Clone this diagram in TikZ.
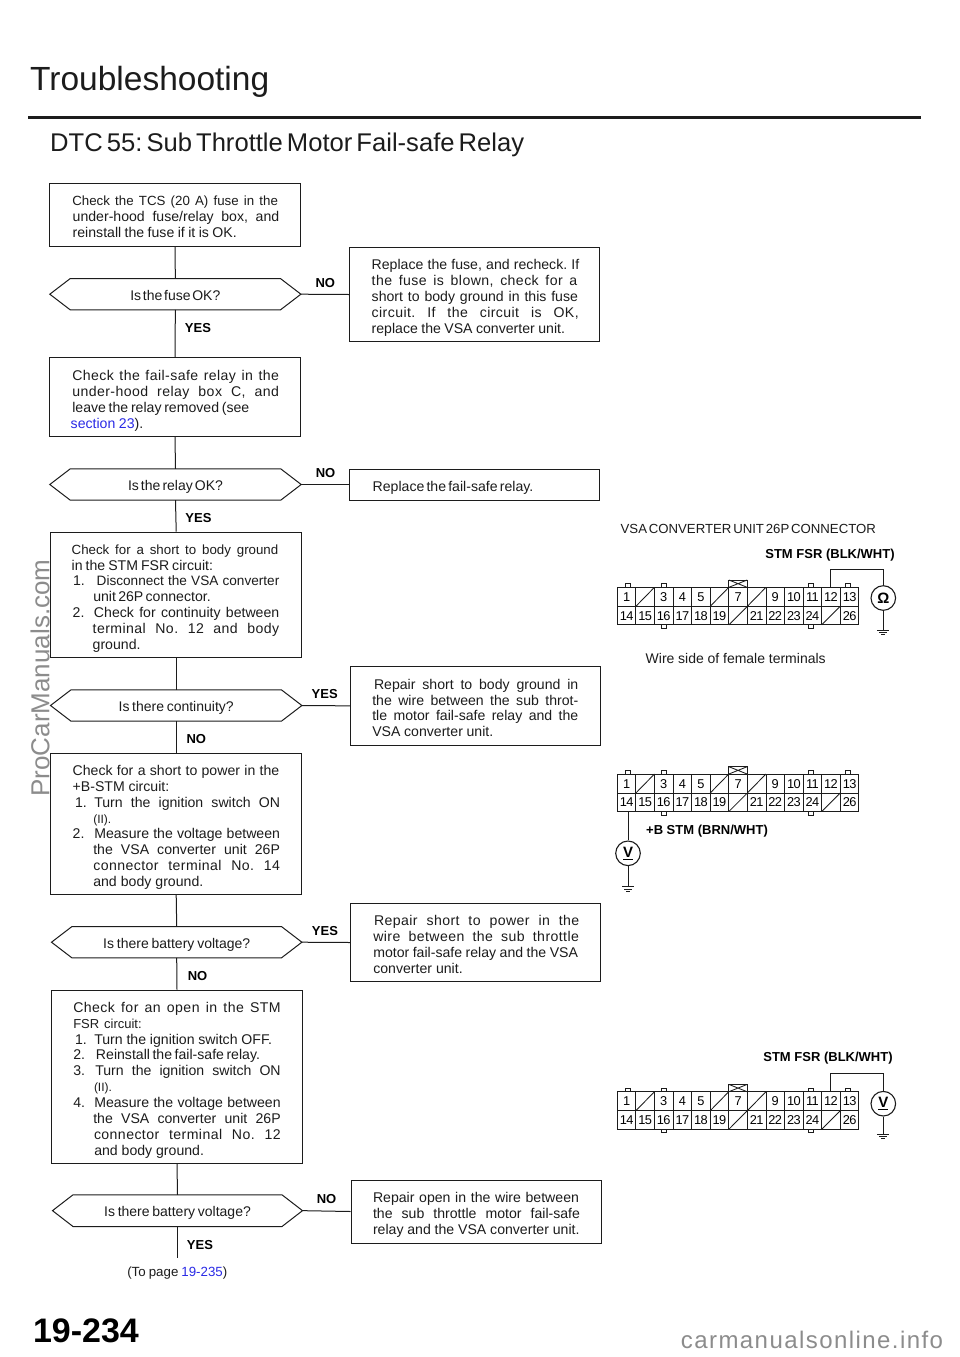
\documentclass[tikz,border=0pt]{standalone}
\usepackage{fontspec}
\setmainfont{Liberation Sans}
\usetikzlibrary{calc}
\definecolor{ink}{HTML}{1C1C1C}
\definecolor{linkblue}{HTML}{2A2AE6}
\definecolor{wmgray}{HTML}{8C8C8C}
\def\bx{0}
\newcommand\fitspace{\frenchspacing\spaceskip=0.2em plus 1fil minus 1fil\relax}
% one printed line running from x1 to x2 (picture coordinates)
\newcommand\fit[3]{\leavevmode\hskip\dimexpr #1pt-\bx pt-10pt\relax\strut\hbox to \dimexpr #2pt-#1pt\relax{\fitspace #3}\par}
\newcommand\fitl[3]{\leavevmode\hskip\dimexpr #1pt-\bx pt-10pt\relax\strut\hbox to \dimexpr #2pt-#1pt\relax{\addfontfeature{LetterSpace=3}\fitspace #3}\par}
% numbered line
\newcommand\fitn[5]{\leavevmode\hskip\dimexpr #3pt-\bx pt-10pt\relax\strut\llap{\hbox to \dimexpr #3pt-#1pt\relax{#2\hss}}\hbox to \dimexpr #4pt-#3pt\relax{\fitspace #5}\par}
\newcommand\fitw[2]{\hbox to #1pt{\fitspace #2}}
\newcommand\tinytxt{\fontsize{12}{15.9}\selectfont}
\newcommand\stepnode[6]{%
  \pgfmathsetmacro\tw{#4-#2-20}\pgfmathsetmacro\mw{#4-#2}\pgfmathsetmacro\mh{#5-#3}%
  \def\bx{#2}%
  \node[stepbox,minimum width=\mw pt,minimum height=\mh pt] (#1) at ({(#2+#4)/2},{(#3+#5)/2}) {\vbox{\hsize=\tw pt\parindent=0pt\parskip=0pt\vskip 8pt\relax #6}};}
\newcommand\hexnode[7]{% name left top right bottom textwidth text
  \pgfmathsetmacro\mw{#4-#2}\pgfmathsetmacro\mh{#5-#3}%
  \node[hexlabel,minimum width=\mw pt,minimum height=\mh pt] (#1) at ({(#2+#4)/2},{(#3+#5)/2}) {\fitw{#6}{#7}};
  \draw[wire] ($(#1.north west)+(20.5,0)$) -- ($(#1.north east)+(-20.5,0)$) -- (#1.east) -- ($(#1.south east)+(-20.5,0)$) -- ($(#1.south west)+(20.5,0)$) -- (#1.west) -- cycle;}
\newcommand\connector[3]{% prefix x y
  \begin{scope}[shift={(#2,#3)}]
    \draw[cwire] (0,0) rectangle (241.5,37.6);
    \draw[cwire] (0,19) -- (241.5,19);
    \foreach \c in {1,...,12} \draw[cwire] ({\c*18.58},0) -- ({\c*18.58},37.6);
    \foreach \c in {1,5,7} \draw[cwire] ({\c*18.58},19) -- ({(\c+1)*18.58},0);
    \foreach \c in {6,11} \draw[cwire] ({\c*18.58},37.6) -- ({(\c+1)*18.58},19);
    \foreach \t in {10.3,46.7,193.3,230.3} \draw[cwire] (\t-2.6,0) -- (\t-2.6,-3.5) -- (\t+2.6,-3.5) -- (\t+2.6,0);
    \foreach \t in {46.7,193.3} \draw[cwire] (\t-2.6,37.6) -- (\t-2.6,41.1) -- (\t+2.6,41.1) -- (\t+2.6,37.6);
    \draw[cwire] (111.6,0) -- (111.6,-7.3) -- (129.8,-7.3) -- (129.8,0);
    \draw[cwire] (111.6,-7.3) -- (129.8,0) (111.6,0) -- (129.8,-7.3);
    \foreach \n/\c in {1/0,3/2,4/3,5/4,7/6,9/8,10/9,11/10,12/11,13/12}
      \node[pin] (#1n\n) at ({(\c+.5)*18.58},9.7) {\addfontfeature{LetterSpace=-5}\n};
    \foreach \n/\c in {14/0,15/1,16/2,17/3,18/4,19/5,21/7,22/8,23/9,24/10,26/12}
      \node[pin] (#1n\n) at ({(\c+.5)*18.58},28.4) {\addfontfeature{LetterSpace=-5}\n};
  \end{scope}}
\tikzset{
  wire/.style={draw=ink,line width=1pt,line join=miter},
  cwire/.style={draw=ink,line width=.85pt},
  stepbox/.style={draw=ink,fill=white,line width=1pt,rectangle,inner sep=0pt,text=ink,font=\fontsize{14.1}{15.9}\selectfont},
  hexlabel/.style={rectangle,inner sep=0pt,text=ink,text height=11.6pt,text depth=0pt,font=\fontsize{14}{15.9}\selectfont},
  answer/.style={inner sep=0pt,text=black,font=\bfseries\fontsize{13}{14}\selectfont},
  pin/.style={inner sep=0pt,text=black,font=\fontsize{12.8}{14}\selectfont},
  meter/.style={circle,draw=ink,line width=1.1pt,minimum size=24.6pt,inner sep=0pt,text=black,font=\bfseries\fontsize{15}{18}\selectfont},
  caption/.style={inner sep=0pt,text=ink,font=\fontsize{14}{16}\selectfont},
  gnd/.pic={\draw[cwire] (-6,0) -- (6,0) (-4,2.4) -- (4,2.4) (-2,4.8) -- (2,4.8);}
}
\begin{document}
\begin{tikzpicture}[x=1pt,y=-1pt]
\useasboundingbox (0,0) rectangle (960,1357);
\fill[white] (0,0) rectangle (960,1357);
% watermarks
\node[rotate=90,inner sep=0pt,text=wmgray,font=\fontsize{26}{28}\selectfont] (wm1) at (40,678) {ProCarManuals.com};
\node[inner sep=0pt,text=wmgray,font=\fontsize{24}{26}\selectfont] (wm2) at (812,1340) {\addfontfeature{LetterSpace=6}carmanualsonline.info};
% headings
\node[anchor=base west,inner sep=0pt,text=ink,font=\fontsize{33.5}{36}\selectfont] (title) at (30,90) {Troubleshooting};
\coordinate (ruleL) at (28,117); \coordinate (ruleR) at (921,117);
\draw[draw=ink,line width=3pt] (ruleL) -- (ruleR);
\node[anchor=base west,inner sep=0pt,text=ink,font=\fontsize{25.6}{28}\selectfont] (sub) at (50,151) {\hbox to 474pt{\fitspace DTC 55: Sub Throttle Motor Fail-safe Relay}};
% left column
\stepnode{b1}{49.3}{183.3}{300.7}{246}{%
\fit{72.3}{278}{\fontsize{13.3}{15.9}\selectfont Check the TCS (20 A) fuse in the}
\fit{72.7}{279.3}{under-hood fuse/relay box, and}
\fit{72.7}{236.7}{reinstall the fuse if it is OK.}}
\hexnode{d1}{50}{278.7}{300.7}{309.7}{90}{Is the fuse OK?}
\stepnode{b2}{49.3}{357.7}{300.7}{436.7}{%
\fitl{72.3}{279}{Check the fail-safe relay in the}
\fitl{72.3}{279}{under-hood relay box C, and}
\fit{72.3}{249.3}{leave the relay removed (see}
\fit{70.7}{143.3}{\textcolor{linkblue}{section 23}).}}
\hexnode{d2}{50}{469}{301}{500}{95}{Is the relay OK?}
\stepnode{b3}{50.7}{532}{301.7}{657.3}{%
\fit{71.7}{278.3}{\fontsize{13.3}{15.9}\selectfont Check for a short to body ground}
\fit{71.7}{213}{in the STM FSR circuit:}
\fitn{73}{1.}{96.7}{279.3}{\fontsize{13.6}{15.9}\selectfont Disconnect the VSA converter}
\fit{93.3}{210.7}{unit 26P connector.}
\fitn{72.7}{2.}{94}{279.3}{Check for continuity between}
\fitl{92.7}{279.3}{terminal No. 12 and body}
\fit{92.7}{139}{ground.}}
\hexnode{d3}{50.7}{690}{301.7}{721}{115}{Is there continuity?}
\stepnode{b4}{50.7}{753.3}{301.7}{894.3}{%
\fit{72.7}{279.3}{Check for a short to power in the}
\fit{72.7}{169.3}{+B-STM circuit:}
\fitn{75}{1.}{94.3}{280}{Turn the ignition switch ON}
\fit{93.3}{110.7}{\tinytxt (II).}
\fitn{72.7}{2.}{94.3}{280}{Measure the voltage between}
\fit{93.3}{280}{the VSA converter unit 26P}
\fitl{93.3}{280}{connector terminal No. 14}
\fit{93.3}{203.3}{and body ground.}}
\hexnode{d4}{51.7}{926.7}{301.7}{957.7}{147}{Is there battery voltage?}
\stepnode{b5}{51.7}{990}{302.3}{1163.3}{%
\fitl{73.3}{280.7}{Check for an open in the STM}
\fit{73.3}{141.7}{\fontsize{13}{15.9}\selectfont FSR circuit:}
\fitn{75}{1.}{94.3}{272}{Turn the ignition switch OFF.}
\fitn{73.3}{2.}{96}{260}{Reinstall the fail-safe relay.}
\fitn{73.3}{3.}{95.3}{280.7}{Turn the ignition switch ON}
\fit{94}{111.7}{\tinytxt (II).}
\fitn{73.3}{4.}{94.3}{280.7}{Measure the voltage between}
\fit{93.3}{280.7}{the VSA converter unit 26P}
\fitl{94}{280.7}{connector terminal No. 12}
\fit{94.3}{204}{and body ground.}}
\hexnode{d5}{52.7}{1195}{302.3}{1226.3}{146.7}{Is there battery voltage?}
% right column
\stepnode{r1}{349.3}{247.3}{599.3}{341.7}{%
\fit{371.7}{579.3}{Replace the fuse, and recheck. If}
\fitl{371.7}{577.3}{the fuse is blown, check for a}
\fit{371.7}{578}{short to body ground in this fuse}
\fitl{371.7}{578.7}{circuit. If the circuit is OK,}
\fit{371.7}{565}{replace the VSA converter unit.}}
\stepnode{r2}{349.3}{469}{599.3}{500}{%
\fit{372.7}{533.3}{Replace the fail-safe relay.}}
\stepnode{r3}{350.7}{666.7}{600.7}{745}{%
\fit{374}{578.3}{Repair short to body ground in}
\fit{372.3}{578.3}{the wire between the sub throt-}
\fit{372.3}{578.3}{tle motor fail-safe relay and the}
\fit{372.3}{493.3}{VSA converter unit.}}
\stepnode{r4}{350.7}{903.3}{600.7}{981.7}{%
\fitl{374}{579.3}{Repair short to power in the}
\fitl{373.3}{579}{wire between the sub throttle}
\fit{373.3}{578}{motor fail-safe relay and the VSA}
\fit{373.3}{462.7}{converter unit.}}
\stepnode{r5}{351}{1180}{601}{1243}{%
\fit{373}{579}{Repair open in the wire between}
\fit{373}{580}{the sub throttle motor fail-safe}
\fit{373}{579.5}{relay and the VSA converter unit.}}
% vertical connectors
\draw[wire] (b1.south) -- (d1.north);
\draw[wire] (d1.south) -- (b2.north);
\draw[wire] (b2.south) -- (d2.north);
\draw[wire] (d2.south) -- (b3.north);
\draw[wire] (b3.south) -- (d3.north);
\draw[wire] (d3.south) -- (b4.north);
\draw[wire] (b4.south) -- (d4.north);
\draw[wire] (d4.south) -- (b5.north);
\draw[wire] (b5.south) -- (d5.north);
\coordinate (endflow) at (177.5,1258.3);
\draw[wire] (d5.south) -- (endflow);
% horizontal connectors
\draw[wire] (d1.east) -- (r1.west);
\draw[wire] (d2.east) -- (r2.west);
\draw[wire] (d3.east) -- (r3.west);
\draw[wire] (d4.east) -- (r4.west);
\draw[wire] (d5.east) -- (r5.west);
% answers
\node[answer] (a1) at (325.3,282.7) {NO};
\node[answer] (a2) at (198,328) {YES};
\node[answer] (a3) at (325.5,473) {NO};
\node[answer] (a4) at (198.5,518) {YES};
\node[answer] (a5) at (324.7,694) {YES};
\node[answer] (a6) at (196.3,739.3) {NO};
\node[answer] (a7) at (325,931) {YES};
\node[answer] (a8) at (197.5,976) {NO};
\node[answer] (a9) at (326.5,1199) {NO};
\node[answer] (a10) at (200,1244.7) {YES};
\node[caption] (topage) at (177.3,1273.3) {\hbox to 100pt{\fitspace\fontsize{13.3}{15}\selectfont (To page \textcolor{linkblue}{19-235})}};
\node[inner sep=0pt,text=black,font=\bfseries\fontsize{34}{36}\selectfont] (pageno) at (85.5,1330.5) {\hbox to 105pt{19-234\hss}};
% connector panels
\node[caption] (vsa) at (748.3,529.3) {\hbox to 255.3pt{\fontsize{13.2}{16}\selectfont\fitspace VSA CONVERTER UNIT 26P CONNECTOR}};
\connector{pa}{617.3}{587.3}
\node[answer] (la) at (830,554.7) {STM FSR (BLK/WHT)};
\node[meter] (ma) at (883.3,598) {Ω};
\coordinate (ta) at (830.7,587.3);
\coordinate (ka) at (830.7,569.3);
\coordinate (ga) at (883.3,630);
\draw[wire] (ta) -- (ka) -| (ma.north);
\draw[wire] (ma.south) -- (ga);
\pic at (ga) {gnd};
\node[caption] (wside) at (735.7,658.5) {\hbox to 180pt{\fitspace Wire side of female terminals}};
\connector{pb}{617.3}{774}
\node[answer] (lb) at (707,831) {+B STM (BRN/WHT)};
\node[meter] (mb) at (628,853.3) {\underline{V}};
\coordinate (tb) at (628,811.6);
\coordinate (gb) at (628,886.7);
\draw[wire] (tb) -- (mb.north);
\draw[wire] (mb.south) -- (gb);
\pic at (gb) {gnd};
\connector{pc}{617.3}{1091.7}
\node[answer] (lc) at (828,1058.3) {STM FSR (BLK/WHT)};
\node[meter] (mc) at (883.3,1103.7) {\underline{V}};
\coordinate (tc) at (830,1091.7);
\coordinate (kc) at (830,1073.3);
\coordinate (gc) at (883.3,1134);
\draw[wire] (tc) -- (kc) -| (mc.north);
\draw[wire] (mc.south) -- (gc);
\pic at (gc) {gnd};
\end{tikzpicture}
\end{document}
